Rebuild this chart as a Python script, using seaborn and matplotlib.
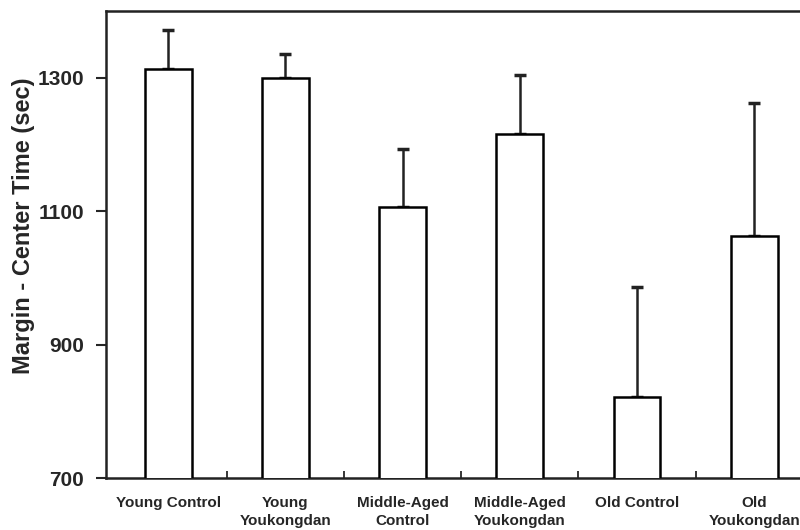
import numpy as np
import pandas as pd
import matplotlib
matplotlib.use("Agg")
import matplotlib.pyplot as plt
import seaborn as sns

# =========================
# DATA
# =========================
groups = ["Young Control", "Young\nYoukongdan", "Middle-Aged\nControl",
          "Middle-Aged\nYoukongdan", "Old Control", "Old\nYoukongdan"]
means = [1313, 1300, 1106, 1216, 822, 1063]
upper = [1371, 1335, 1193, 1304, 987, 1262]
yticks = [700, 900, 1100, 1300]

errs = np.array(upper) - np.array(means)
df = pd.DataFrame({"group": groups, "time": means})

# =========================
# PLOT
# =========================
sns.set_style("ticks")
plt.rcParams["font.family"] = ["Liberation Sans", "DejaVu Sans"]

fig = plt.figure(figsize=(8, 5.3), dpi=100)
ax = fig.add_axes([0.1325, 0.098, 0.8675, 0.881])

sns.barplot(data=df, x="group", y="time", color="white", edgecolor="black",
            linewidth=1.8, width=0.4, ax=ax, zorder=3)
x = np.arange(len(groups))
ax.errorbar(x, means, yerr=[np.zeros(len(errs)), errs], fmt="none",
            ecolor="#222222", elinewidth=1.8, capsize=4.5, capthick=2.5, zorder=2)

ax.set_ylim(700, 1400)
ax.set_xlim(-0.53, 5.39)
ax.set_yticks(yticks)
ax.set_yticklabels([str(t) for t in yticks], fontsize=15, fontweight="bold")
ax.set_xticks(x)
ax.set_xticklabels(groups, fontsize=11, fontweight="bold", linespacing=1.35)
ax.set_xticks(x[:-1] + 0.5, minor=True)
ax.tick_params(axis="x", which="major", length=0, pad=13)
ax.tick_params(axis="x", which="minor", direction="in", length=5, width=1.3)
ax.tick_params(axis="y", direction="out", length=7, width=1.5, pad=9)

ax.set_xlabel("")
ax.set_ylabel("Margin - Center Time (sec)", fontsize=17, fontweight="bold")
ax.yaxis.set_label_coords(-0.103, 0.54)

for side in ["left", "top", "bottom"]:
    ax.spines[side].set_linewidth(1.8)
    ax.spines[side].set_color("#222222")
ax.spines["right"].set_visible(False)

fig.savefig("out.png", dpi=100)
plt.close(fig)
